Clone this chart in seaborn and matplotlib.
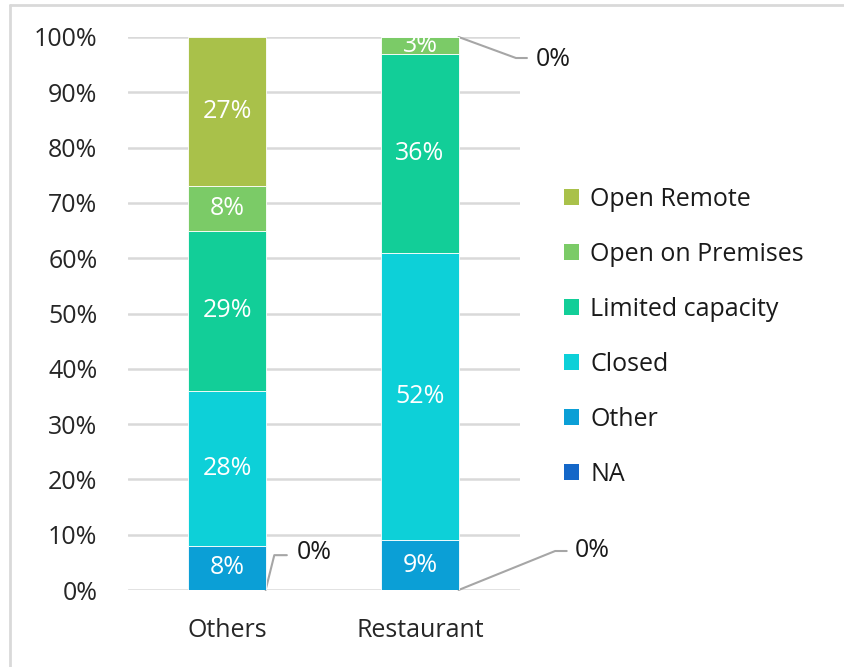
import matplotlib
matplotlib.use("Agg")
import matplotlib.pyplot as plt
from matplotlib.lines import Line2D
from matplotlib.patches import Patch
import seaborn as sns
import numpy as np

# Share of sites by operating status (percent)
categories = ["Others", "Restaurant"]
statuses = ["NA", "Other", "Closed", "Limited capacity", "Open on Premises", "Open Remote"]
na_vals = [0, 0]
other_vals = [8, 9]
closed_vals = [28, 52]
limited_vals = [29, 36]
premises_vals = [8, 3]
remote_vals = [27, 0]
series = [na_vals, other_vals, closed_vals, limited_vals, premises_vals, remote_vals]
yticks = [0, 10, 20, 30, 40, 50, 60, 70, 80, 90, 100]

colors = ["#1467C8", "#0B9FD6", "#0DD0D8", "#12CE98", "#7BCB67", "#A9C14A"]

sns.set_theme(style="white")
plt.rcParams["font.family"] = ["Open Sans", "DejaVu Sans"]
plt.rcParams["text.color"] = "#1a1a1a"

fig = plt.figure(figsize=(8.45, 6.67), dpi=100)
ax = fig.add_axes([128 / 845, 1 - 590 / 667, 392 / 845, 553 / 667])

fs = 18
bottoms = np.zeros(len(categories))
for name, vals, col in zip(statuses, series, colors):
    frac = np.array(vals) / 100.0
    sns.barplot(x=categories, y=frac, bottom=bottoms, color=col, width=0.4, saturation=1,
                edgecolor="white", linewidth=0.6, ax=ax, zorder=3)
    for i, v in enumerate(vals):
        if v > 0:
            ax.text(i, bottoms[i] + frac[i] / 2, f"{v}%", ha="center", va="center",
                    color="white", fontsize=fs, zorder=4)
    bottoms = bottoms + frac

ax.set_xlim(-0.513, 1.518)
ax.set_ylim(0, 1)
ax.set_yticks(np.array(yticks) / 100)
ax.set_yticklabels([f"{t}%" for t in yticks], fontsize=fs)
ax.tick_params(axis="y", length=0, pad=22)
ax.tick_params(axis="x", length=0, pad=20, labelsize=fs)
ax.set_xlabel("")
ax.set_ylabel("")
ax.yaxis.grid(True, color="#D9D9D9", linewidth=1.8, zorder=0)
ax.set_axisbelow(True)
for s in ax.spines.values():
    s.set_visible(False)

# Leader lines for zero-valued segments
lead_kw = dict(color="#A6A6A6", linewidth=1.5, clip_on=False, zorder=2)
# Others - NA
ax.plot([0.2, 0.245, 0.31], [0.0, 0.063, 0.063], **lead_kw)
ax.text(0.36, 0.068, f"{na_vals[0]}%", ha="left", va="center", fontsize=fs, clip_on=False)
# Restaurant - NA
ax.plot([1.2, 1.70, 1.76], [0.0, 0.0705, 0.0705], **lead_kw)
ax.text(1.8, 0.072, f"{na_vals[1]}%", ha="left", va="center", fontsize=fs, clip_on=False)
# Restaurant - Open Remote
top_r = sum(v[1] for v in series) / 100
ax.plot([1.2, 1.497, 1.554], [top_r, top_r - 0.038, top_r - 0.038], **lead_kw)
ax.text(1.6, top_r - 0.04, f"{remote_vals[1]}%", ha="left", va="center", fontsize=fs, clip_on=False)

# Legend, top entry = top of stack
handles = [Patch(facecolor=c, edgecolor="none") for c in colors[::-1]]
fig.legend(handles, statuses[::-1], loc="upper left", bbox_to_anchor=(564 / 845, 1 - 187 / 667),
           frameon=False, fontsize=fs, handlelength=0.6, handleheight=0.6,
           handletextpad=0.45, labelspacing=1.2, borderaxespad=0, borderpad=0)

# Light frame along top and left edges
fig.add_artist(Line2D([10 / 845, 1.0], [1 - 5 / 667, 1 - 5 / 667], color="#D9D9D9", linewidth=2,
                      transform=fig.transFigure))
fig.add_artist(Line2D([10 / 845, 10 / 845], [0.0, 1 - 5 / 667], color="#D9D9D9", linewidth=2,
                      transform=fig.transFigure))

fig.savefig("out.png", dpi=100)
